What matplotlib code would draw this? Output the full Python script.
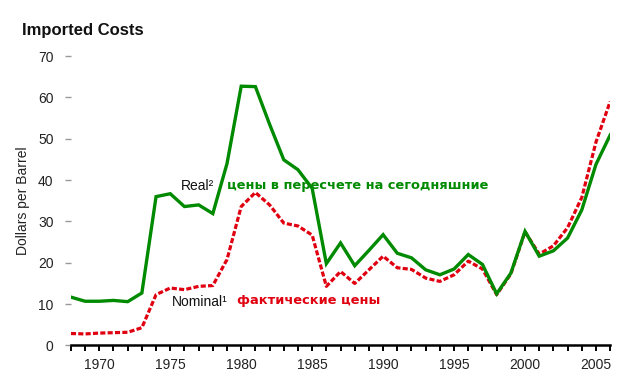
import matplotlib
matplotlib.use("Agg")
import matplotlib.pyplot as plt
from matplotlib.ticker import MultipleLocator

years = list(range(1968, 2007))
real = [11.7, 10.7, 10.7, 10.9, 10.6, 12.7, 36.0, 36.7, 33.6, 34.0, 31.9, 44.0,
        62.7, 62.6, 53.5, 44.9, 42.5, 38.0, 19.8, 24.8, 19.3, 23.0, 26.8, 22.3,
        21.2, 18.3, 17.1, 18.5, 22.0, 19.6, 12.5, 17.5, 27.6, 21.6, 22.9, 26.0,
        32.8, 43.8, 50.9]
nominal = [2.9, 2.8, 3.0, 3.1, 3.2, 4.3, 12.3, 13.9, 13.5, 14.3, 14.5, 20.8,
           33.6, 37.0, 34.0, 29.6, 28.9, 26.7, 14.3, 17.9, 15.0, 18.3, 21.6, 18.8,
           18.4, 16.3, 15.5, 17.1, 20.4, 18.5, 12.3, 17.3, 27.5, 22.1, 24.1, 28.5,
           35.8, 49.2, 59.0]
yticks = [0, 10, 20, 30, 40, 50, 60, 70]
xticks = [1970, 1975, 1980, 1985, 1990, 1995, 2000, 2005]

plt.rcParams['font.family'] = ['Liberation Sans', 'DejaVu Sans']

GREEN = '#008a00'
RED = '#e00010'

fig = plt.figure(figsize=(6.4, 3.85), dpi=100)
ax = fig.add_axes([0.1108, 0.1026, 0.8426, 0.7519])

ax.plot(years, real, color=GREEN, lw=2.4, solid_joinstyle='miter', zorder=3)
ax.plot(years, nominal, color=RED, lw=2.3, dashes=(1.6, 0.7),
        dash_capstyle='butt', zorder=2)

ax.set_xlim(1968, 2006)
ax.set_ylim(0, 70)

for s in ['top', 'right', 'left']:
    ax.spines[s].set_visible(False)
ax.spines['bottom'].set_linewidth(1.8)
ax.spines['bottom'].set_color('black')

ax.set_yticks(yticks)
ax.set_xticks(xticks)
ax.xaxis.set_minor_locator(MultipleLocator(1))
ax.tick_params(axis='y', direction='out', length=4.5, width=1, color='#999999',
               pad=8, labelsize=10, labelcolor='#222222')
ax.tick_params(axis='x', which='both', direction='out', length=4, width=1.4,
               color='black', pad=5, labelsize=10, labelcolor='#222222')

ax.set_ylabel('Dollars per Barrel', fontsize=10, color='#222222', labelpad=6)

fig.text(0.034, 0.921, 'Imported Costs', fontsize=12, fontweight='bold',
         color='#111111', ha='left', va='center')

ax.text(1975.75, 38.6, 'Real²', fontsize=10, color='#111111', ha='left', va='center')
ax.text(1979.0, 38.8, 'цены в пересчете на сегодняшние', fontsize=9.4,
        fontweight='bold', color=GREEN, ha='left', va='center',
        family=['DejaVu Sans'])
ax.text(1975.1, 10.6, 'Nominal¹', fontsize=10, color='#111111', ha='left', va='center')
ax.text(1979.7, 10.8, 'фактические цены', fontsize=9.4,
        fontweight='bold', color=RED, ha='left', va='center',
        family=['DejaVu Sans'])

fig.savefig('out.png', dpi=100)
